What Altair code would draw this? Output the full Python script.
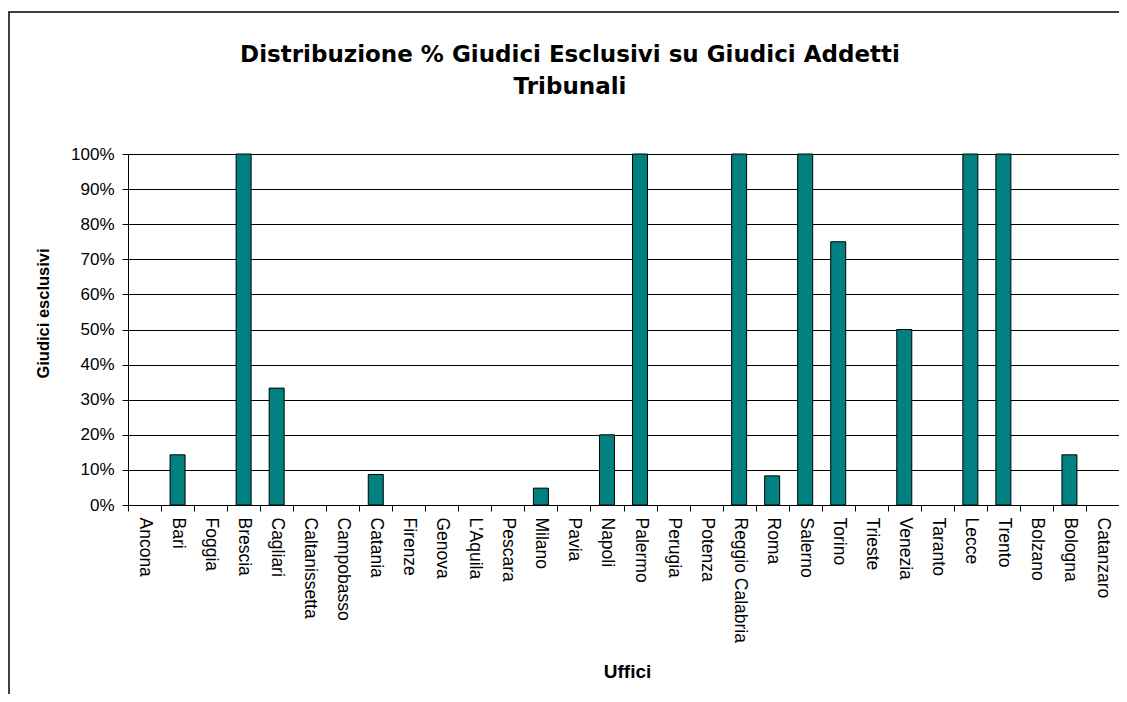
import altair as alt
import pandas as pd

uffici = ["Ancona", "Bari", "Foggia", "Brescia", "Cagliari", "Caltanissetta",
          "Campobasso", "Catania", "Firenze", "Genova", "L'Aquila", "Pescara",
          "Milano", "Pavia", "Napoli", "Palermo", "Perugia", "Potenza",
          "Reggio Calabria", "Roma", "Salerno", "Torino", "Trieste", "Venezia",
          "Taranto", "Lecce", "Trento", "Bolzano", "Bologna", "Catanzaro"]
quota = [0.0, 0.143, 0.0, 1.0, 0.333, 0.0,
         0.0, 0.087, 0.0, 0.0, 0.0, 0.0,
         0.048, 0.0, 0.20, 1.0, 0.0, 0.0,
         1.0, 0.083, 1.0, 0.75, 0.0, 0.50,
         0.0, 1.0, 1.0, 0.0, 0.143, 0.0]
y_ticks = [0, 0.1, 0.2, 0.3, 0.4, 0.5, 0.6, 0.7, 0.8, 0.9, 1.0]
title_lines = ["Distribuzione % Giudici Esclusivi su Giudici Addetti", "Tribunali"]

df = pd.DataFrame({"Ufficio": uffici, "Quota": quota})

FONT = "Liberation Sans"

bars = alt.Chart(df).transform_filter(
    alt.datum.Quota > 0
).mark_bar(
    color="#008080", stroke="#000000", strokeWidth=1, width=15
).encode(
    x=alt.X("Ufficio:N", sort=uffici, title="Uffici",
            scale=alt.Scale(domain=uffici, paddingInner=0, paddingOuter=0),
            axis=alt.Axis(labelAngle=90, labelAlign="left", labelBaseline="middle",
                          tickBand="extent", tickSize=6, tickColor="#000000",
                          domainColor="#000000", labelFontSize=17.5, labelColor="#000000",
                          labelPadding=6, titleFontSize=19, titleFontWeight="bold",
                          titleX=499, titleY=172, titleBaseline="alphabetic",
                          titleColor="#000000", grid=False)),
    y=alt.Y("Quota:Q", title="Giudici esclusivi",
            scale=alt.Scale(domain=[0, 1], nice=False),
            axis=alt.Axis(values=y_ticks, format=".0%", tickSize=6, tickColor="#000000",
                          domainColor="#000000", labelFontSize=17, labelColor="#000000",
                          labelPadding=8, gridColor="#000000", gridOpacity=1,
                          titleFontSize=16.5, titleFontWeight="bold",
                          titleX=-85, titleY=159, titleBaseline="middle",
                          titleColor="#000000")),
)

one = pd.DataFrame({"k": [0]})

frame = alt.Chart(one).mark_rect(
    fill=None, stroke="#000000", strokeWidth=1.5
).encode(
    x=alt.value(-119), x2=alt.value(1100), y=alt.value(-142), y2=alt.value(700)
)

tdf = pd.DataFrame({"line": title_lines, "dy": [0, 32]})
title = alt.Chart(tdf).mark_text(
    font="DejaVu Sans", fontSize=23, fontWeight="bold", color="#000000",
    align="center", baseline="alphabetic"
).encode(
    text="line:N",
    x=alt.value(442),
    y=alt.Y("dy:Q", scale=alt.Scale(domain=[0, 32], range=[-92, -60]), axis=None),
)

chart = alt.layer(frame, bars, title).resolve_scale(y="independent").properties(
    width=991, height=351,
    autosize=alt.AutoSizeParams(type="none"),
    padding={"left": 120, "top": 146, "right": 0, "bottom": 189},
).configure(font=FONT, background="white").configure_view(
    stroke="#a0a0a0", strokeWidth=1
).configure_axis(labelFont=FONT, titleFont=FONT)

chart.save("out.html", embed_options={"renderer": "svg", "actions": False})
